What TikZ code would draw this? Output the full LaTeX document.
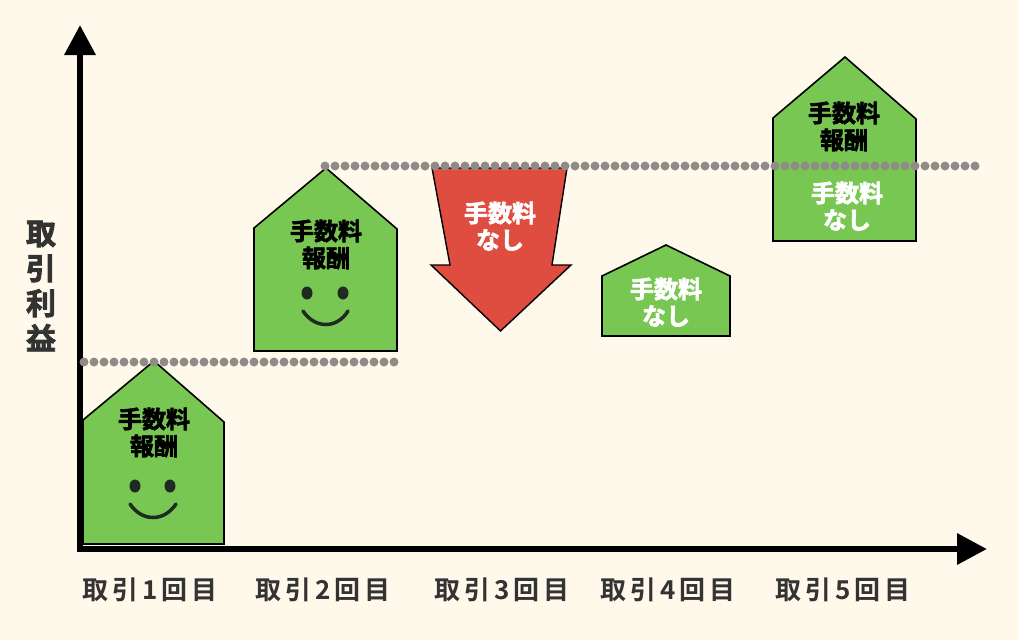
\documentclass[tikz,border=0pt]{standalone}
\usepackage{fontspec}
\usepackage{tikz}
\usetikzlibrary{arrows.meta,shapes.geometric}
\newfontfamily\cjkbold[FakeBold=2.6]{Noto Sans CJK JP Bold}
\newfontfamily\cjkaxis[LetterSpace=15]{Noto Sans CJK JP Bold}
\definecolor{paper}{HTML}{FFF9EC}
\definecolor{housegreen}{HTML}{79C753}
\definecolor{arrowred}{HTML}{DF4C40}
\definecolor{dotgray}{HTML}{8F8C87}
\definecolor{axislabel}{HTML}{333333}
\definecolor{facedark}{HTML}{1E2A22}

\begin{document}
\begin{tikzpicture}[x=1pt, y=-1pt,
    house node/.style={draw=black, fill=housegreen, line width=1.6pt, line join=miter},
    red node/.style={draw=black, fill=arrowred, line width=1.4pt, line join=miter},
    main axis/.style={line width=6.5pt, -{Triangle[length=30pt,width=30pt]}},
    dot line/.style={dotgray, line width=9pt, line cap=round, dash pattern=on 0pt off 10pt},
    black label/.style={font=\cjkbold\fontsize{24}{24}\selectfont, text=black, inner sep=0pt},
    white label/.style={font=\cjkbold\fontsize{24}{24}\selectfont, text=white, inner sep=0pt},
    round label/.style={font=\cjkaxis\fontsize{26}{26}\selectfont, text=axislabel, inner sep=0pt},
    eye node/.style={fill=facedark, ellipse, minimum width=11pt, minimum height=13pt, inner sep=0pt},
    smile line/.style={draw=facedark, line width=3.5pt, line cap=round}]
  \useasboundingbox[fill=paper] (0,0) rectangle (1019,640);

  % houses
  \draw[house node] (154,361) -- (224,422) -- (224,544) -- (83,544) -- (83,420) -- cycle;
  \draw[house node] (326,168) -- (397,229) -- (397,351) -- (254,351) -- (254,228) -- cycle;
  \draw[house node] (666,245) -- (730,276) -- (730,336) -- (602,336) -- (602,276) -- cycle;
  \draw[house node] (845,57) -- (916,119) -- (916,241) -- (773,241) -- (773,118) -- cycle;
  \draw[red node] (432,168) -- (567,168) -- (552,265) -- (571,265) -- (500.5,331)
    -- (431,265) -- (450,265) -- cycle;

  % axes
  \coordinate (origin) at (80,549);
  \coordinate (xend) at (987,549);
  \coordinate (yend) at (80,25);
  \draw[main axis] (77,549) -- (xend);
  \draw[main axis] (origin) -- (yend);

  % dotted levels
  \coordinate (level1a) at (84,362);
  \coordinate (level1b) at (396,362);
  \coordinate (level2a) at (325,166);
  \coordinate (level2b) at (982,166);
  \draw[dot line] (level1a) -- (level1b);
  \draw[dot line] (level2a) -- (level2b);

  % faces
  \node[eye node] (eye1) at (135,486) {};
  \node[eye node] (eye2) at (170,486) {};
  \draw[smile line] (130,504) .. controls (142,522) and (164,522) .. (176,504);
  \node[eye node] (eye3) at (307,293) {};
  \node[eye node] (eye4) at (343,293) {};
  \draw[smile line] (303,311) .. controls (315,329) and (337,329) .. (348,311);

  % texts in the shapes
  \node[black label] (fee1) at (154,419) {手数料};
  \node[black label] (pay1) at (154,446) {報酬};
  \node[black label] (fee2) at (326,231) {手数料};
  \node[black label] (pay2) at (326,258) {報酬};
  \node[white label] (fee3) at (500,213) {手数料};
  \node[white label] (none3) at (500,240) {なし};
  \node[white label] (fee4) at (666,289) {手数料};
  \node[white label] (none4) at (666,316) {なし};
  \node[black label] (fee5) at (844,113) {手数料};
  \node[black label] (pay5) at (844,140) {報酬};
  \node[white label] (fee6) at (847,193) {手数料};
  \node[white label] (none6) at (847,220) {なし};

  % axis texts
  \node[round label] (round1) at (150,590) {取引1回目};
  \node[round label] (round2) at (323,590) {取引2回目};
  \node[round label] (round3) at (502,590) {取引3回目};
  \node[round label] (round4) at (668,590) {取引4回目};
  \node[round label] (round5) at (843,590) {取引5回目};
  \node[font=\cjkbold\fontsize{30}{35}\selectfont, text=axislabel, align=center, inner sep=0pt]
    (profit) at (41,286) {取\\引\\利\\益};
\end{tikzpicture}
\end{document}
